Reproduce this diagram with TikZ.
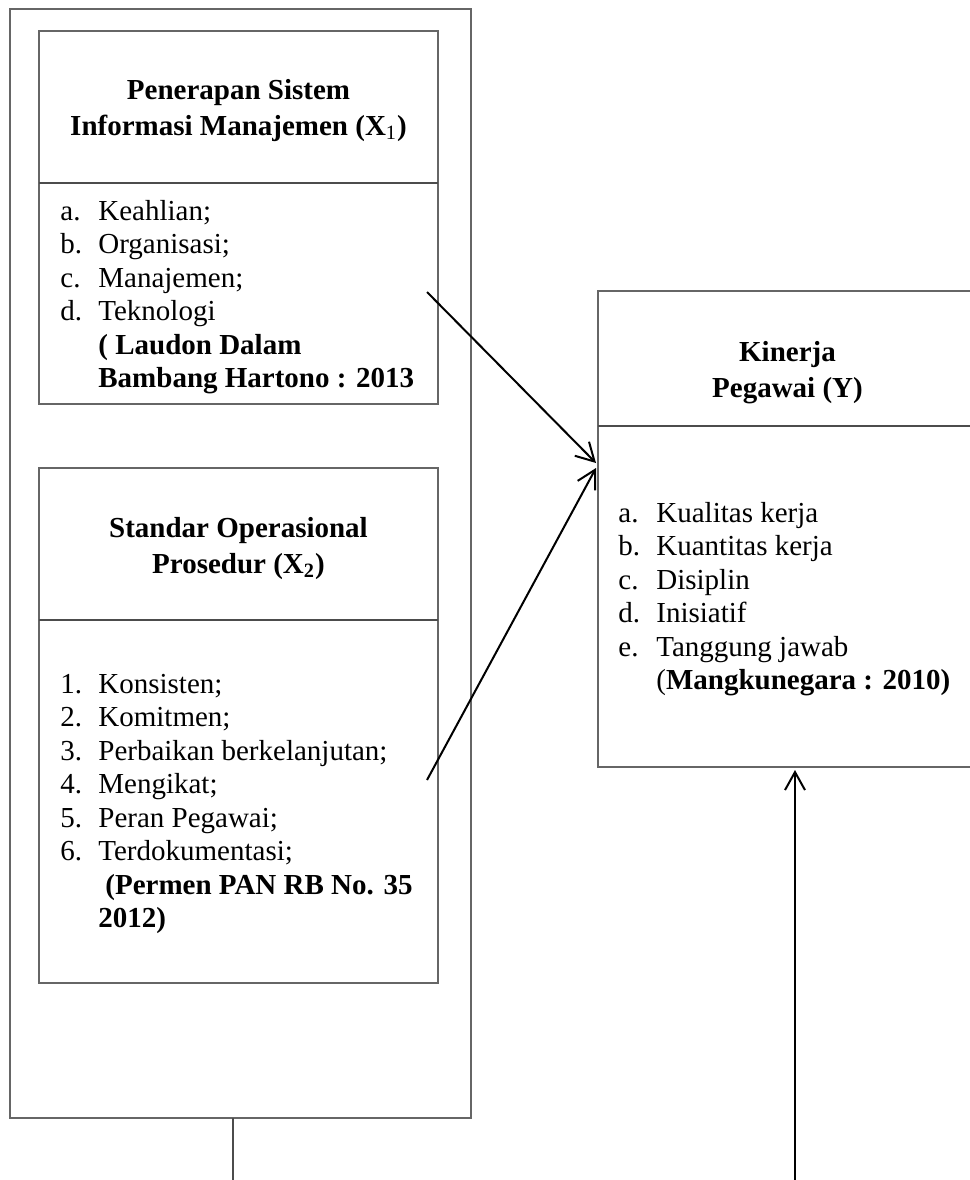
\documentclass[tikz,border=0pt]{standalone}
\usepackage{fontspec}
\setmainfont{Liberation Serif}
\usetikzlibrary{arrows.meta}
\newcommand\itm[1]{\makebox[19pt][l]{#1}}
\begin{document}
\begin{tikzpicture}[x=0.5pt,y=-0.5pt,
  frame/.style={draw=black!60, line width=0.6pt, inner sep=0pt, outer sep=0pt, anchor=north west},
  divider/.style={draw=black!70, line width=0.6pt},
  ttl/.style={font=\fontsize{14.5}{18}\selectfont\bfseries, align=center, anchor=base, inner sep=0pt},
  lst/.style={font=\fontsize{14.5}{16.75}\selectfont, align=left, anchor=base west, inner sep=0pt},
  conn/.style={line width=1pt, -{Straight Barb[length=9pt,width=10pt,line width=1pt]}},
  thin/.style={draw=black!70, line width=0.6pt}]
\path[use as bounding box, clip] (0,0) rectangle (970,1180);

% outer frame
\node[frame, minimum width=230.5pt, minimum height=554.5pt] (outer) at (10,9) {};

% box X1 (text nodes are anchored at the baseline of their last line)
\node[frame, minimum width=199.5pt, minimum height=186.5pt] (b1) at (39,31) {};
\draw[divider] (b1.west |- 0,183) -- (b1.east |- 0,183);
\node[ttl] (t1) at (238.5,135) {Penerapan Sistem\\Informasi Manajemen (X\textsubscript{\mdseries 1})};
\node[lst] (l1) at (60,387.5) {\itm{a.}Keahlian;\\\itm{b.}Organisasi;\\\itm{c.}Manajemen;\\\itm{d.}Teknologi\\\hspace*{19pt}\textbf{( Laudon Dalam}\\\hspace*{19pt}\textbf{Bambang Hartono : 2013}};

% box X2
\node[frame, minimum width=199.5pt, minimum height=257.5pt] (b2) at (39,468) {};
\draw[divider] (b2.west |- 0,620) -- (b2.east |- 0,620);
\node[ttl] (t2) at (238.5,573) {Standar Operasional\\Prosedur (X\textsubscript{2})};
\node[lst] (l2) at (60,927.5) {\itm{1.}Konsisten;\\\itm{2.}Komitmen;\\\itm{3.}Perbaikan berkelanjutan;\\\itm{4.}Mengikat;\\\itm{5.}Peran Pegawai;\\\itm{6.}Terdokumentasi;\\\hspace*{22.5pt}\textbf{(Permen PAN RB No. 35}\\\hspace*{19pt}\textbf{2012)}};

% box Y
\node[frame, minimum width=189.5pt, minimum height=238pt] (yb) at (598,291) {};
\draw[divider] (yb.west |- 0,426) -- (yb.east |- 0,426);
\node[ttl] (ty) at (787.5,397) {Kinerja\\Pegawai (Y)};
\node[lst] (ly) at (618,689.5) {\itm{a.}Kualitas kerja\\\itm{b.}Kuantitas kerja\\\itm{c.}Disiplin\\\itm{d.}Inisiatif\\\itm{e.}Tanggung jawab\\\hspace*{19pt}(\textbf{Mangkunegara : 2010)}};

% connectors
\coordinate (s1) at (427,292);
\coordinate (s2) at (427,780);
\coordinate (e1) at (596,463);
\coordinate (e2) at (596,468);
\draw[conn] (s1) -- (e1);
\draw[conn] (s2) -- (e2);

\coordinate (s3) at (795,1180);
\coordinate (e3) at (795,770);
\draw[conn] (s3) -- (e3);

\coordinate (d1) at (233,1180);
\draw[thin] (outer.south -| d1) -- (d1);
\end{tikzpicture}
\end{document}
